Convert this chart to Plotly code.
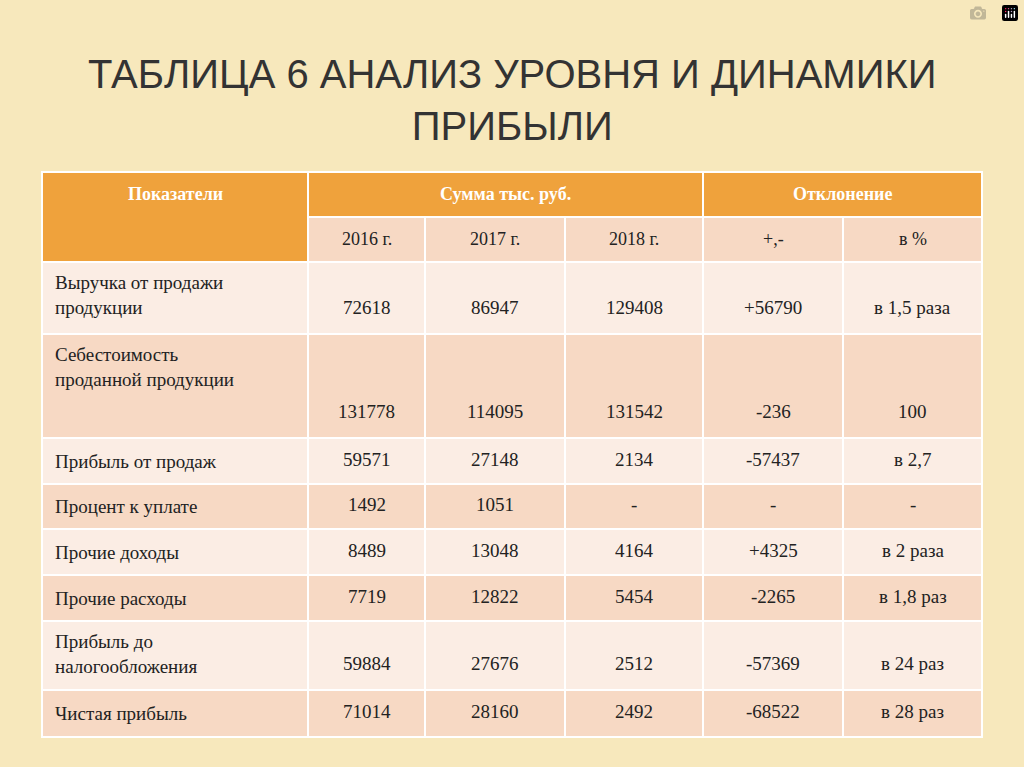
import plotly.graph_objects as go

title = "ТАБЛИЦА 6 АНАЛИЗ УРОВНЯ И ДИНАМИКИ<br>ПРИБЫЛИ"
labels = ["Выручка от продажи<br>продукции", "Себестоимость<br>проданной продукции",
          "Прибыль от продаж", "Процент к уплате", "Прочие доходы", "Прочие расходы",
          "Прибыль до<br>налогообложения", "Чистая прибыль"]
y2016 = ["72618", "131778", "59571", "1492", "8489", "7719", "59884", "71014"]
y2017 = ["86947", "114095", "27148", "1051", "13048", "12822", "27676", "28160"]
y2018 = ["129408", "131542", "2134", "-", "4164", "5454", "2512", "2492"]
dev_abs = ["+56790", "-236", "-57437", "-", "+4325", "-2265", "-57369", "-68522"]
dev_pct = ["в 1,5 раза", "100", "в 2,7", "-", "в 2 раза", "в 1,8 раз", "в 24 раз", "в 28 раз"]
head1 = ["Показатели", "Сумма тыс. руб.", "Отклонение"]
head2 = ["2016 г.", "2017 г.", "2018 г.", "+,-", "в %"]

# layout geometry (pixels)
cols = [42, 308, 425, 565, 703, 843, 982]
hrows = [172, 217, 262]
rows = [262, 334, 438, 484, 529, 575, 621, 690, 737]
ORANGE = "#EFA23C"; PEACH = "#F7D9C4"; LIGHT = "#FBEDE4"
FONT = "Liberation Serif"; TC = "#222222"

shapes, ann = [], []
def rect(x0, y0, x1, y1, c):
    shapes.append(dict(type="rect", x0=x0, x1=x1, y0=y0, y1=y1, fillcolor=c,
                       line=dict(color="white", width=2), layer="below"))

rect(cols[0], hrows[0], cols[1], hrows[2], ORANGE)
rect(cols[1], hrows[0], cols[4], hrows[1], ORANGE)
rect(cols[4], hrows[0], cols[6], hrows[1], ORANGE)
for i in range(5):
    rect(cols[i+1], hrows[1], cols[i+2], hrows[2], PEACH)
for t, (a, b) in zip(head1, [(0, 1), (1, 4), (4, 6)]):
    ann.append(dict(x=(cols[a]+cols[b])/2, y=194, text="<b>"+t+"</b>", showarrow=False,
                    font=dict(family=FONT, size=18, color="white")))
for i, t in enumerate(head2):
    ann.append(dict(x=(cols[i+1]+cols[i+2])/2, y=239, text=t, showarrow=False,
                    font=dict(family=FONT, size=18, color=TC)))

for r in range(len(labels)):
    y0, y1 = rows[r], rows[r+1]
    c = LIGHT if r % 2 == 0 else PEACH
    for i in range(6):
        rect(cols[i], y0, cols[i+1], y1, c)
    multi = "<br>" in labels[r]
    if multi:
        ann.append(dict(x=53, y=y0+8, text=labels[r], showarrow=False, xanchor="left",
                        yanchor="top", align="left", font=dict(family=FONT, size=19, color=TC)))
        ny, ya = y1-14, "bottom"
    else:
        ann.append(dict(x=53, y=(y0+y1)/2, text=labels[r], showarrow=False, xanchor="left",
                        font=dict(family=FONT, size=19, color=TC)))
        ny, ya = (y0+y1)/2 - 2, "middle"
    for i, arr in enumerate([y2016, y2017, y2018, dev_abs, dev_pct]):
        ann.append(dict(x=(cols[i+1]+cols[i+2])/2, y=ny, text=arr[r], showarrow=False,
                        yanchor=ya, font=dict(family=FONT, size=19, color=TC)))

ann.append(dict(x=512, y=100, text=title, showarrow=False,
                font=dict(family="Liberation Sans", size=40, color="#333333")))

fig = go.Figure()
fig.update_layout(width=1024, height=767, margin=dict(l=0, r=0, t=0, b=0),
                  paper_bgcolor="#F7E8BC", plot_bgcolor="#F7E8BC",
                  xaxis=dict(range=[0, 1024], visible=False, fixedrange=True),
                  yaxis=dict(range=[767, 0], visible=False, fixedrange=True),
                  shapes=shapes, annotations=ann, showlegend=False)
fig.write_html("out.html",
               post_script="document.body.style.margin='0';document.body.style.background='#F7E8BC';")
